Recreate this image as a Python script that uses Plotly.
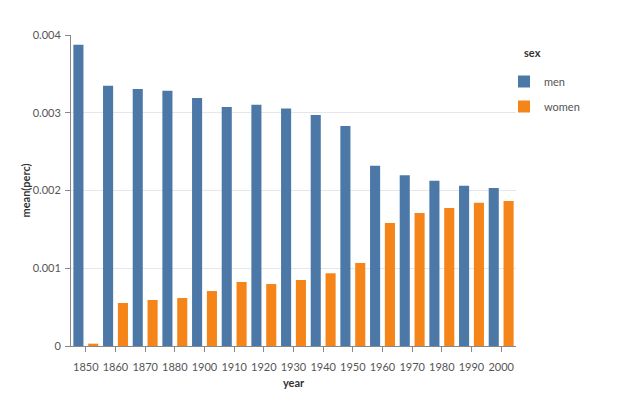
import plotly.graph_objects as go

years = ["1850", "1860", "1870", "1880", "1900", "1910", "1920", "1930",
         "1940", "1950", "1960", "1970", "1980", "1990", "2000"]
men = [0.003875, 0.003348, 0.003305, 0.003284, 0.00319, 0.003074, 0.003104, 0.003055,
       0.002971, 0.00283, 0.002318, 0.002195, 0.002126, 0.002062, 0.002032]
women = [0.00003, 0.000553, 0.000592, 0.000617, 0.000707, 0.000823, 0.000797, 0.000849,
         0.000935, 0.001068, 0.001582, 0.001711, 0.001775, 0.001843, 0.001865]
series_names = ["men", "women"]
colors = ["#4c78a8", "#f58518"]
legend_title = "sex"
x_title = "year"
y_title = "mean(perc)"

font_family = "Lato, 'Open Sans', sans-serif"
title_font = dict(family=font_family, size=11, color="#333", weight="bold")

fig = go.Figure()
for name, vals, col in zip(series_names, [men, women], colors):
    fig.add_trace(go.Bar(x=years, y=vals, name=name, marker_color=col,
                         marker_line_width=0, legendgroup=name))

fig.update_layout(
    width=640, height=409,
    margin=dict(l=71, r=124, t=35, b=63),
    paper_bgcolor="white", plot_bgcolor="white",
    barmode="group", bargap=0.0, bargroupgap=0.32,
    font=dict(family=font_family, size=11, color="#555"),
    legend=dict(
        x=(504 - 71) / 445, y=(346 - 67) / 311, xanchor="left", yanchor="top",
        font=dict(size=11, color="#555"),
        tracegroupgap=6,
        bgcolor="rgba(0,0,0,0)",
    ),
    showlegend=True,
    annotations=[
        dict(text=legend_title, xref="paper", yref="paper",
             x=(522 - 71) / 445, y=(346 - 53) / 311, xanchor="left", yanchor="middle",
             showarrow=False, font=title_font),
        dict(text=y_title, xref="paper", yref="paper", textangle=-90,
             x=(25 - 71) / 445, y=0.5, xanchor="center", yanchor="middle",
             showarrow=False, font=title_font),
    ],
)
fig.update_xaxes(
    type="category",
    title=dict(text=x_title, font=title_font, standoff=7),
    showgrid=False,
    showline=True, linecolor="#888", linewidth=1,
    ticks="outside", ticklen=5, tickcolor="#888",
    tickfont=dict(size=11, color="#555"),
    ticklabelstandoff=6,
)
fig.update_yaxes(
    range=[0, 0.004], dtick=0.001, tick0=0,
    showgrid=True, gridcolor="#e6e6ec", gridwidth=1,
    showline=True, linecolor="#888", linewidth=1,
    ticks="outside", ticklen=5, tickcolor="#888",
    tickfont=dict(size=11, color="#555"),
    ticklabelstandoff=2,
    zeroline=False,
)

fig.write_html("out.html")
